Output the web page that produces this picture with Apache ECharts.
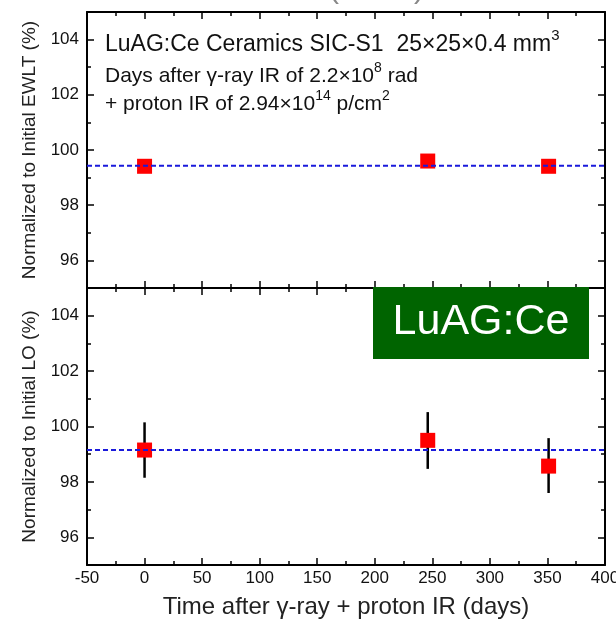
<!DOCTYPE html>
<html>
<head>
<meta charset="utf-8">
<script src="https://cdn.jsdelivr.net/npm/echarts@6/dist/echarts.min.js"></script>
<style>
  html, body { margin: 0; padding: 0; background: #fff; }
  #chart { width: 616px; height: 623px; }
</style>
</head>
<body>
<div id="chart"></div>
<script>
// x range (days) and y tick values
const xMin = -50;
const xMax = 400;
const xStep = 50;
const yMin = 95;
const yMax = 105;
const yMajorTicks = [96, 98, 100, 102, 104];
const yMinorTicks = [97, 99, 101, 103];

// measurement days
const days = [0, 246, 351];

// upper panel: EWLT
const ewlt = [99.41, 99.6, 99.41];
const ewltFit = 99.43;

// lower panel: light output with error bars
const lo = [99.15, 99.5, 98.57];
const loErrLow = [98.15, 98.47, 97.6];
const loErrHigh = [100.15, 100.52, 99.58];
const loFit = 99.15;

const FONT = "Liberation Sans, Arial, sans-serif";
const black = "#000";

function xAxisDef(gridIndex, position, showLabel) {
  return {
    type: "value", gridIndex, position,
    min: xMin, max: xMax, interval: xStep,
    axisLine: { show: true, onZero: false, lineStyle: { color: black, width: 2 } },
    axisTick: { show: true, inside: true, length: 7, lineStyle: { color: black, width: 1.5 } },
    minorTick: { show: true, splitNumber: 2, length: 4, lineStyle: { color: black, width: 1.5 } },
    axisLabel: { show: showLabel, color: "#111", fontSize: 17, fontFamily: FONT, margin: 5 },
    splitLine: { show: false },
  };
}

function yAxisDef(gridIndex, position, minor, name) {
  return {
    type: "value", gridIndex, position,
    min: yMin, max: yMax,
    name: name || "",
    nameLocation: "middle",
    nameGap: 46,
    nameTextStyle: { fontSize: 19, color: "#222", fontFamily: FONT },
    axisLine: { show: !minor, onZero: false, lineStyle: { color: black, width: 2 } },
    axisTick: {
      show: true, inside: true, length: minor ? 4 : 7,
      customValues: minor ? yMinorTicks : yMajorTicks,
      lineStyle: { color: black, width: 1.5 },
    },
    axisLabel: {
      show: !minor && position === "left",
      customValues: yMajorTicks,
      color: "#111", fontSize: 17, fontFamily: FONT, margin: 8,
    },
    splitLine: { show: false },
  };
}

function fitLine(xIdx, yIdx, value) {
  return {
    type: "line", xAxisIndex: xIdx, yAxisIndex: yIdx,
    data: [[xMin, value], [xMax, value]],
    symbol: "none", z: 4,
    lineStyle: { color: "#1a1adb", width: 2, type: [5, 3] },
  };
}

function markers(xIdx, yIdx, values) {
  return {
    type: "scatter", xAxisIndex: xIdx, yAxisIndex: yIdx,
    data: days.map((d, i) => [d, values[i]]),
    symbol: "rect", symbolSize: 15, z: 3,
    itemStyle: { color: "#ff0000", opacity: 1 },
  };
}

const chart = echarts.init(document.getElementById("chart"), null, { renderer: "canvas" });

chart.setOption({
  animation: false,
  backgroundColor: "#fff",
  grid: [
    { left: 87, right: 11, top: 12, height: 276, outerBoundsMode: "none" },
    { left: 87, right: 11, top: 288, height: 277, outerBoundsMode: "none" },
  ],
  xAxis: [
    xAxisDef(0, "bottom", false),
    xAxisDef(0, "top", false),
    Object.assign(xAxisDef(1, "bottom", true), {
      name: "Time after γ-ray + proton IR (days)",
      nameLocation: "middle",
      nameGap: 30,
      nameTextStyle: { fontSize: 24, color: "#222", fontFamily: FONT },
    }),
    xAxisDef(1, "top", false),
  ],
  yAxis: [
    yAxisDef(0, "left", false, "Normalized to Initial EWLT (%)"),
    yAxisDef(0, "left", true),
    yAxisDef(0, "right", false),
    yAxisDef(0, "right", true),
    yAxisDef(1, "left", false, "Normalized to Initial LO (%)"),
    yAxisDef(1, "left", true),
    yAxisDef(1, "right", false),
    yAxisDef(1, "right", true),
  ],
  series: [
    markers(0, 0, ewlt),
    fitLine(0, 0, ewltFit),
    {
      type: "custom", xAxisIndex: 2, yAxisIndex: 4, z: 2,
      data: days.map((d, i) => [d, loErrLow[i], loErrHigh[i]]),
      renderItem(params, api) {
        const lowPt = api.coord([api.value(0), api.value(1)]);
        const highPt = api.coord([api.value(0), api.value(2)]);
        return {
          type: "line",
          shape: { x1: lowPt[0], y1: lowPt[1], x2: highPt[0], y2: highPt[1] },
          style: { stroke: black, lineWidth: 2.5 },
        };
      },
    },
    markers(2, 4, lo),
    fitLine(2, 4, loFit),
  ],
  graphic: [
    {
      // clipped caption left over from the panel above
      type: "text", left: 255, top: -25, silent: true,
      style: { text: "Time (hours)", fontSize: 30, fontFamily: FONT, fill: "#888" },
    },
    {
      type: "text", left: 105, top: 28, z: 10,
      style: {
        text: "{n|LuAG:Ce Ceramics SIC-S1  25×25×0.4 mm}{s|3}",
        rich: {
          n: { fontSize: 23, fontFamily: FONT, fill: "#111", lineHeight: 28, verticalAlign: "bottom" },
          s: { fontSize: 15, fontFamily: FONT, fill: "#111", lineHeight: 28, verticalAlign: "top" },
        },
      },
    },
    {
      type: "text", left: 105, top: 61, z: 10,
      style: {
        text: "{n|Days after γ-ray IR of 2.2×10}{s|8}{n| rad}",
        rich: {
          n: { fontSize: 21, fontFamily: FONT, fill: "#111", lineHeight: 26, verticalAlign: "bottom" },
          s: { fontSize: 14, fontFamily: FONT, fill: "#111", lineHeight: 26, verticalAlign: "top" },
        },
      },
    },
    {
      type: "text", left: 105, top: 89, z: 10,
      style: {
        text: "{n|+ proton IR of 2.94×10}{s|14}{n| p/cm}{s|2}",
        rich: {
          n: { fontSize: 21, fontFamily: FONT, fill: "#111", lineHeight: 26, verticalAlign: "bottom" },
          s: { fontSize: 14, fontFamily: FONT, fill: "#111", lineHeight: 26, verticalAlign: "top" },
        },
      },
    },
    {
      type: "rect", left: 373, top: 287, z: 10,
      shape: { width: 216, height: 72 },
      style: { fill: "#006400" },
    },
    {
      type: "text", z: 11, x: 481, y: 322,
      style: {
        text: "LuAG:Ce", fontSize: 43, fontFamily: FONT, fill: "#fff",
        align: "center", verticalAlign: "middle",
      },
    },
  ],
});
</script>
</body>
</html>
